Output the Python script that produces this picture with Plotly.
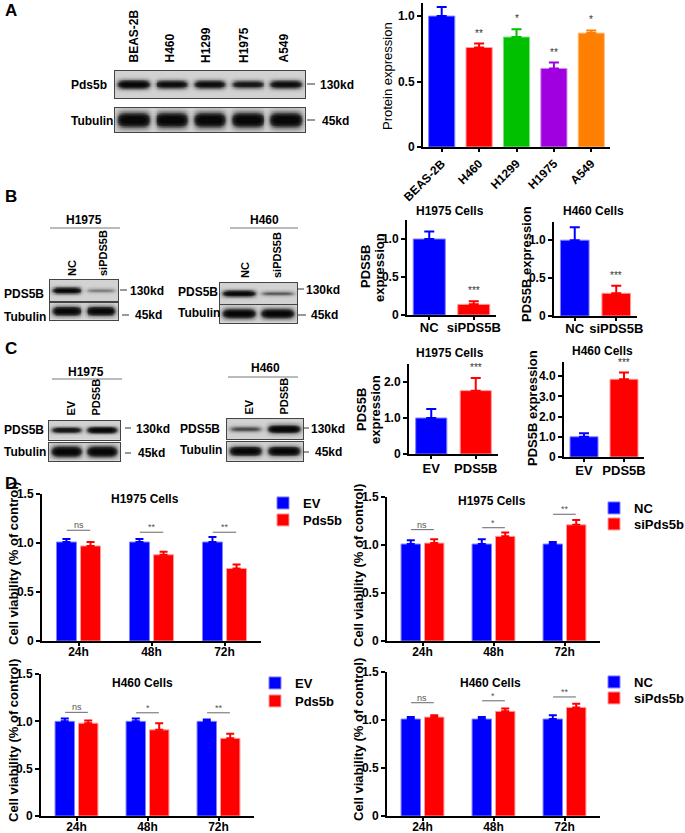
import numpy as np
import plotly.graph_objects as go

W, H = 685, 833
FONT = "Liberation Sans, Arial, sans-serif"

# ---------------- data ----------------
# Panel A
a_lines = ["BEAS-2B", "H460", "H1299", "H1975", "A549"]
a_expr = [1.00, 0.76, 0.84, 0.60, 0.87]
a_err = [0.07, 0.03, 0.06, 0.045, 0.02]
a_sig = ["", "**", "*", "**", "*"]
a_blot_pds5b = [0.95, 0.85, 0.85, 0.75, 0.85]
a_blot_tubulin = [1.0, 1.0, 1.0, 1.0, 1.0]

# Panel B (knock-down)
b_groups = ["NC", "siPDS5B"]
b_h1975 = [1.00, 0.14]
b_h1975_err = [0.10, 0.04]
b_h460 = [1.00, 0.30]
b_h460_err = [0.17, 0.10]
b_sig = ["", "***"]
b_blot_h1975_pds5b = [0.9, 0.3]
b_blot_h1975_tub = [0.95, 0.95]
b_blot_h460_pds5b = [0.9, 0.4]
b_blot_h460_tub = [0.95, 0.95]

# Panel C (over-expression)
c_groups = ["EV", "PDS5B"]
c_h1975 = [1.00, 1.76]
c_h1975_err = [0.25, 0.35]
c_h460 = [1.00, 3.85]
c_h460_err = [0.18, 0.33]
c_sig = ["", "***"]
c_blot_h1975_pds5b = [0.75, 0.92]
c_blot_h1975_tub = [1.0, 1.0]
c_blot_h460_pds5b = [0.45, 1.0]
c_blot_h460_tub = [0.95, 0.95]

# Panel D (cell viability)
d_times = ["24h", "48h", "72h"]
d1_ev, d1_ev_err = [1.01, 1.01, 1.01], [0.03, 0.03, 0.05]
d1_pds, d1_pds_err = [0.97, 0.88, 0.74], [0.04, 0.03, 0.04]
d1_sig, d1_sig_y = ["ns", "**", "**"], [1.13, 1.11, 1.11]
d2_nc, d2_nc_err = [1.01, 1.01, 1.01], [0.04, 0.05, 0.02]
d2_si, d2_si_err = [1.02, 1.09, 1.21], [0.04, 0.04, 0.05]
d2_sig, d2_sig_y = ["ns", "*", "**"], [1.16, 1.18, 1.32]
d3_ev, d3_ev_err = [1.00, 1.00, 1.00], [0.03, 0.03, 0.02]
d3_pds, d3_pds_err = [0.98, 0.91, 0.82], [0.03, 0.07, 0.05]
d3_sig, d3_sig_y = ["ns", "*", "**"], [1.095, 1.09, 1.09]
d4_nc, d4_nc_err = [1.01, 1.01, 1.01], [0.02, 0.02, 0.04]
d4_si, d4_si_err = [1.03, 1.09, 1.13], [0.02, 0.03, 0.04]
d4_sig, d4_sig_y = ["ns", "*", "**"], [1.18, 1.20, 1.24]

# ---------------- styles ----------------
COL = {"blue": "#0000FF", "red": "#FF0000", "green": "#00C000",
       "purple": "#A000E0", "orange": "#FF8000"}
EDGE = {"blue": "#8080FF", "red": "#FF9C9C", "green": "#80E080",
        "purple": "#D090F0", "orange": "#FFC080"}
a_cols = ["blue", "red", "green", "purple", "orange"]
STAR = "#333333"

fig = go.Figure()
layout = {}
annotations = []
shapes = []
_ax = [0]


def px(x):
    return x / W


def py(y):
    return 1 - y / H


def new_axes(x0, x1, ytop, ybot, xopts, yopts):
    _ax[0] += 1
    i = _ax[0]
    s = "" if i == 1 else str(i)
    layout["xaxis" + s] = dict(domain=[px(x0), px(x1)], anchor="y" + s, **xopts)
    layout["yaxis" + s] = dict(domain=[py(ybot), py(ytop)], anchor="x" + s, **yopts)
    return "x" + s, "y" + s


def text(x, y, t, size=12, bold=True, color="black", xanchor="center",
         yanchor="middle", angle=0):
    annotations.append(dict(
        x=px(x), y=py(y), xref="paper", yref="paper", text=t, showarrow=False,
        textangle=angle, xanchor=xanchor, yanchor=yanchor,
        font=dict(family=FONT, size=size, color=color,
                  weight="bold" if bold else "normal")))


def pline(x0, x1, y0, y1, color="#555", width=1):
    shapes.append(dict(type="line", xref="paper", yref="paper",
                       x0=px(x0), x1=px(x1), y0=py(y0), y1=py(y1),
                       line=dict(color=color, width=width)))


BLOT_CS = [[0, "#d2d2d2"], [0.25, "#9a9a9a"], [0.6, "#2e2e2e"], [1, "#070707"]]


def blot(x0, x1, ytop, ybot, intens, base_w):
    n = len(intens)
    opts = dict(range=[0, n], showline=True, mirror=True, linecolor="#444",
                linewidth=1, showticklabels=False, ticks="", showgrid=False,
                zeroline=False, fixedrange=True)
    yo = dict(opts)
    yo["range"] = [0, 1]
    xa, ya = new_axes(x0, x1, ytop, ybot, opts, yo)
    xs = np.linspace(0, n, n * 40)
    ys = np.linspace(0, 1, 40)
    X, Y = np.meshgrid(xs, ys)
    Z = np.zeros_like(X)
    for i, v in enumerate(intens):
        wy = base_w * (0.55 + 0.45 * v)
        Z += v * np.exp(-(np.abs(X - (i + 0.5)) / 0.42) ** 6) * np.exp(-((Y - 0.5) / wy) ** 2)
    Z = np.clip(Z * 1.15, 0, 1)
    fig.add_trace(go.Heatmap(x=xs, y=ys, z=Z, xaxis=xa, yaxis=ya, colorscale=BLOT_CS,
                             zmin=0, zmax=1, showscale=False, hoverinfo="skip"))


def bar_axes(x0, x1, ytop, ybot, cats, yrange, tickvals, ticktext, tickangle=0,
             xsize=12, standoff=-4):
    xo = dict(type="category", categoryarray=cats, range=[-0.5, len(cats) - 0.5],
              showline=True, linecolor="black", linewidth=2, ticks="outside",
              ticklen=3, tickwidth=1.5, tickcolor="black", tickangle=tickangle,
              ticklabelstandoff=standoff,
              tickfont=dict(family=FONT, size=xsize, color="black", weight="bold"),
              showgrid=False, zeroline=False, fixedrange=True, automargin=False)
    yo = dict(range=yrange, showline=True, linecolor="black", linewidth=2,
              ticks="outside", ticklen=4, tickwidth=1.5, tickcolor="black",
              tickvals=tickvals, ticktext=ticktext,
              tickfont=dict(family=FONT, size=12, color="black", weight="bold"),
              showgrid=False, zeroline=False, fixedrange=True, automargin=False)
    return new_axes(x0, x1, ytop, ybot, xo, yo)


def single_bars(xa, ya, cats, vals, errs, cols, sig, width=0.7, star_size=10):
    for c, v, e, col, s in zip(cats, vals, errs, cols, sig):
        fig.add_trace(go.Bar(
            x=[c], y=[v], xaxis=xa, yaxis=ya, width=width, offset=-width / 2,
            marker=dict(color=COL[col], line=dict(color=EDGE[col], width=1)),
            error_y=dict(type="data", symmetric=False, array=[e], arrayminus=[0],
                         color=COL[col], thickness=2, width=5),
            showlegend=False, hoverinfo="skip"))
        if s:
            annotations.append(dict(x=c, y=v + e, xref=xa, yref=ya, yshift=3,
                                    text=s, showarrow=False, yanchor="bottom",
                                    font=dict(family=FONT, size=star_size, color=STAR)))


def group_bars(xa, ya, names, series, errs, cols, legends, sig, sig_y):
    for nm, vals, er, col, lg in zip(names, series, errs, cols, legends):
        fig.add_trace(go.Bar(
            x=d_times, y=vals, name=nm, xaxis=xa, yaxis=ya, legend=lg,
            marker=dict(color=COL[col], line=dict(color=EDGE[col], width=1)),
            error_y=dict(type="data", symmetric=False, array=er,
                         arrayminus=[0] * len(er), color=COL[col], thickness=2, width=4),
            hoverinfo="skip"))
    for i, (s, yv) in enumerate(zip(sig, sig_y)):
        shapes.append(dict(type="line", xref=xa, yref=ya, x0=i - 0.16, x1=i + 0.16,
                           y0=yv, y1=yv, line=dict(color="#666", width=1)))
        annotations.append(dict(x=i, y=yv, xref=xa, yref=ya, text=s, showarrow=False,
                                yanchor="bottom", yshift=-2,
                                font=dict(family=FONT, size=9, color="#555")))


# ================= Panel A =================
text(3, 11, "A", size=17, xanchor="left")
for x, lab in zip([133, 169, 206, 244, 283], a_lines):
    text(x, 65, lab, size=12, angle=-90, yanchor="bottom")
blot(115, 305, 71, 98, a_blot_pds5b, 0.16)
blot(115, 305, 108, 132, a_blot_tubulin, 0.30)
text(69, 85, "Pds5b", size=12, xanchor="left")
text(69, 121, "Tubulin", size=12, xanchor="left")
pline(307, 315, 84, 84, color="#333")
text(318, 85, "130kd", size=12, xanchor="left")
pline(307, 315, 120, 120, color="#333")
text(320, 121, "45kd", size=12, xanchor="left")

xa, ya = bar_axes(423, 610, 3, 147, a_lines, [0, 1.1], [0, 0.5, 1.0],
                  ["0", "0.5", "1.0"], tickangle=-45, standoff=0)
single_bars(xa, ya, a_lines, a_expr, a_err, a_cols, a_sig, width=0.7)
text(388, 76, "Protein expression", size=13, angle=-90, bold=False)

# ================= Panel B =================
text(3, 197, "B", size=17, xanchor="left")
# H1975 blot
text(84, 220, "H1975", size=12)
pline(50, 120, 228, 228, color="#777")
text(72, 278, "NC", size=11, angle=-90, yanchor="bottom")
text(103, 278, "siPDS5B", size=11, angle=-90, yanchor="bottom")
blot(50, 118, 280, 301, b_blot_h1975_pds5b, 0.16)
blot(50, 118, 303, 320, b_blot_h1975_tub, 0.28)
text(2, 294, "PDS5B", size=12, xanchor="left")
text(2, 317, "Tubulin", size=12, xanchor="left")
pline(120, 127, 290, 290, color="#333")
text(128, 291, "130kd", size=12, xanchor="left")
pline(122, 129, 315, 315, color="#333")
text(133, 315, "45kd", size=12, xanchor="left")
# H460 blot
text(264, 220, "H460", size=12)
pline(230, 298, 228, 228, color="#777")
text(245, 280, "NC", size=11, angle=-90, yanchor="bottom")
text(277, 280, "siPDS5B", size=11, angle=-90, yanchor="bottom")
blot(220, 297, 283, 304, b_blot_h460_pds5b, 0.16)
blot(220, 297, 305, 323, b_blot_h460_tub, 0.28)
text(176, 292, "PDS5B", size=12, xanchor="left")
text(176, 313, "Tubulin", size=12, xanchor="left")
pline(297, 304, 289, 289, color="#333")
text(304, 290, "130kd", size=12, xanchor="left")
pline(298, 306, 315, 315, color="#333")
text(309, 315, "45kd", size=12, xanchor="left")
# bars
text(450, 211, "H1975 Cells", size=12)
xa, ya = bar_axes(407, 496, 220, 315, b_groups, [0, 1.25], [0, 0.5, 1.0],
                  ["0", "0.5", "1.0"], xsize=13)
single_bars(xa, ya, b_groups, b_h1975, b_h1975_err, ["blue", "red"], b_sig, width=0.72)
text(365, 267, "PDS5B", size=13, angle=-90)
text(379, 267, "expression", size=13, angle=-90)
text(593, 211, "H460 Cells", size=12)
xa, ya = bar_axes(554, 637, 222, 316, b_groups, [0, 1.24], [0, 0.5, 1.0],
                  ["0", "0.5", "1.0"], xsize=13)
single_bars(xa, ya, b_groups, b_h460, b_h460_err, ["blue", "red"], b_sig, width=0.69)
text(527, 264, "PDS5B expression", size=13, angle=-90)

# ================= Panel C =================
text(3, 348, "C", size=17, xanchor="left")
text(86, 372, "H1975", size=12)
pline(52, 122, 379, 379, color="#777")
text(70, 418, "EV", size=11, angle=-90, yanchor="bottom")
text(95, 418, "PDS5B", size=11, angle=-90, yanchor="bottom")
blot(49, 120, 421, 440, c_blot_h1975_pds5b, 0.18)
blot(49, 120, 443, 461, c_blot_h1975_tub, 0.30)
text(2, 430, "PDS5B", size=12, xanchor="left")
text(2, 452, "Tubulin", size=12, xanchor="left")
pline(125, 131, 428, 428, color="#333")
text(134, 429, "130kd", size=12, xanchor="left")
pline(125, 131, 453, 453, color="#333")
text(136, 453, "45kd", size=12, xanchor="left")
text(265, 368, "H460", size=12)
pline(228, 298, 377, 377, color="#777")
text(248, 417, "EV", size=11, angle=-90, yanchor="bottom")
text(283, 417, "PDS5B", size=11, angle=-90, yanchor="bottom")
blot(227, 303, 419, 439, c_blot_h460_pds5b, 0.2)
blot(227, 303, 442, 461, c_blot_h460_tub, 0.26)
text(178, 429, "PDS5B", size=12, xanchor="left")
text(178, 450, "Tubulin", size=12, xanchor="left")
pline(303, 309, 428, 428, color="#333")
text(309, 429, "130kd", size=12, xanchor="left")
pline(303, 309, 452, 452, color="#333")
text(313, 452, "45kd", size=12, xanchor="left")
# bars
text(450, 353, "H1975 Cells", size=12)
xa, ya = bar_axes(409, 498, 364, 454, c_groups, [0, 2.5], [0, 1.0, 2.0],
                  ["0", "1.0", "2.0"], xsize=13, standoff=-2)
single_bars(xa, ya, c_groups, c_h1975, c_h1975_err, ["blue", "red"], c_sig, width=0.7)
text(362, 410, "PDS5B", size=13, angle=-90)
text(376, 410, "expression", size=13, angle=-90)
text(602, 351, "H460 Cells", size=12)
xa, ya = bar_axes(564, 644, 362, 457, c_groups, [0, 4.7], [0, 1.0, 2.0, 3.0, 4.0],
                  ["0", "1.0", "2.0", "3.0", "4.0"], xsize=13, standoff=-3)
single_bars(xa, ya, c_groups, c_h460, c_h460_err, ["blue", "red"], c_sig, width=0.7)
text(532, 408, "PDS5B expression", size=13, angle=-90)

# ================= Panel D =================
text(3, 483, "D", size=17, xanchor="left")
dt = [0, 0.5, 1.0, 1.5]
dtt = ["0", "0.5", "1.0", "1.5"]
# D1
xa, ya = bar_axes(42, 261, 494, 641, d_times, [0, 1.5], dt, dtt)
group_bars(xa, ya, ["EV", "Pds5b"], [d1_ev, d1_pds], [d1_ev_err, d1_pds_err],
           ["blue", "red"], ["legend", "legend2"], d1_sig, d1_sig_y)
text(145, 499, "H1975 Cells", size=12)
text(13, 564, "Cell viability (% of control)", size=13, angle=-90)
# D2
xa, ya = bar_axes(387, 600, 497, 641, d_times, [0, 1.5], dt, dtt)
group_bars(xa, ya, ["NC", "siPds5b"], [d2_nc, d2_si], [d2_nc_err, d2_si_err],
           ["blue", "red"], ["legend3", "legend4"], d2_sig, d2_sig_y)
text(492, 501, "H1975 Cells", size=12)
text(358, 566, "Cell viability (% of control)", size=13, angle=-90)
# D3
xa, ya = bar_axes(41, 254, 674, 816, d_times, [0, 1.5], dt, dtt)
group_bars(xa, ya, ["EV", "Pds5b"], [d3_ev, d3_pds], [d3_ev_err, d3_pds_err],
           ["blue", "red"], ["legend5", "legend6"], d3_sig, d3_sig_y)
text(142, 683, "H460 Cells", size=12)
text(13, 741, "Cell viability (% of control)", size=13, angle=-90)
# D4
xa, ya = bar_axes(387, 600, 672, 816, d_times, [0, 1.5], dt, dtt)
group_bars(xa, ya, ["NC", "siPds5b"], [d4_nc, d4_si], [d4_nc_err, d4_si_err],
           ["blue", "red"], ["legend7", "legend8"], d4_sig, d4_sig_y)
text(490, 683, "H460 Cells", size=12)
text(358, 740, "Cell viability (% of control)", size=13, angle=-90)


def leg(x, y):
    return dict(x=px(x), y=py(y), xanchor="left", yanchor="middle",
                bgcolor="rgba(0,0,0,0)", borderwidth=0, tracegroupgap=0,
                itemclick=False, itemdoubleclick=False,
                font=dict(family=FONT, size=13, color="black", weight="bold"))


layout.update(
    width=W, height=H, margin=dict(l=0, r=0, t=0, b=0, pad=0, autoexpand=False),
    paper_bgcolor="white", plot_bgcolor="white",
    barmode="group", bargap=0.34, bargroupgap=0.17,
    legend=leg(263, 503), legend2=leg(263, 520),
    legend3=leg(594, 508), legend4=leg(594, 524),
    legend5=leg(255, 683), legend6=leg(255, 701),
    legend7=leg(594, 682), legend8=leg(594, 698),
    annotations=annotations, shapes=shapes,
    font=dict(family=FONT, color="black"),
)
fig.update_layout(**layout)
fig.write_html("out.html", config={"displayModeBar": False},
               post_script="document.body.style.margin='0px';document.body.style.padding='0px';")
